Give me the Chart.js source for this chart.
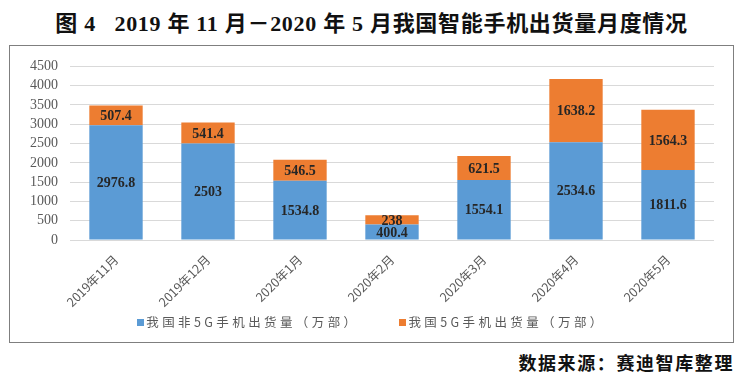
<!DOCTYPE html>
<html><head><meta charset="utf-8">
<script src="https://cdn.jsdelivr.net/npm/chart.js@4/dist/chart.umd.min.js"></script>
<style>
html,body{margin:0;padding:0;background:#fff;width:743px;height:383px;overflow:hidden;position:relative}
#title{position:absolute;left:0;top:5px;width:743px;text-align:center;font:bold 22px "Liberation Serif","Noto Sans CJK SC",serif;color:#111;white-space:pre;letter-spacing:0.7px}
#box{position:absolute;left:9px;top:45px;width:723px;height:296px;border:1.5px solid #7f7f7f}
#wrap{position:absolute;left:0;top:0;width:723px;height:296px}
#legend{position:absolute;left:0;top:266px;width:723px;text-align:center;font:12.5px "Noto Sans CJK SC",sans-serif;color:#595959;letter-spacing:3.4px;white-space:nowrap}
#legend span.item{display:inline-block;margin:0 20px}
#legend i{display:inline-block;width:7px;height:7px;margin-right:2px;vertical-align:1px}
#src{position:absolute;right:9px;top:349px;font:bold 18px "Noto Sans CJK SC",serif;color:#111;letter-spacing:1.6px}
</style></head><body>
<div id="title">图 4   2019 年 11 月－2020 年 5 月我国智能手机出货量月度情况</div>
<div id="box"><div id="wrap"><canvas id="c" width="723" height="296"></canvas></div><div id="legend"></div></div>
<div id="src">数据来源：赛迪智库整理</div>
<script>
const categories = ["2019年11月","2019年12月","2020年1月","2020年2月","2020年3月","2020年4月","2020年5月"];
const non5G = [2976.8, 2503, 1534.8, 400.4, 1554.1, 2534.6, 1811.6];
const g5 = [507.4, 541.4, 546.5, 238, 621.5, 1638.2, 1564.3];
const seriesNames = ["我国非5G手机出货量（万部）","我国5G手机出货量（万部）"];
const seriesColors = ["#5B9BD5","#ED7D31"];
const yMin = 0, yMax = 4500, yStep = 500;

const labelPlugin = {
  id:'vals',
  afterDatasetsDraw(chart){
    const ctx = chart.ctx;
    ctx.save();
    ctx.font = 'bold 14px "Liberation Serif", serif';
    ctx.fillStyle = '#262626';
    ctx.textAlign = 'center';
    ctx.textBaseline = 'middle';
    chart.data.datasets.forEach((ds, di) => {
      const meta = chart.getDatasetMeta(di);
      meta.data.forEach((bar, i) => {
        const y = (bar.y + bar.base) / 2;
        ctx.fillText(String(ds.data[i]), bar.x, y + 1);
      });
    });
    ctx.restore();
  }
};

const chart = new Chart(document.getElementById('c'), {
  type:'bar',
  data:{
    labels: categories,
    datasets: seriesNames.map((n, k) => ({
      label: n, data: k === 0 ? non5G : g5, backgroundColor: seriesColors[k],
      categoryPercentage:0.58, barPercentage:1
    }))
  },
  options:{
    responsive:false, animation:false,
    layout:{padding:{top:5,right:19,left:0,bottom:32}},
    plugins:{ legend:{display:false}, tooltip:{enabled:false} },
    scales:{
      x:{stacked:true, grid:{display:false}, border:{display:false},
         afterFit(s){ s.height = 70; },
         ticks:{color:'#595959', maxRotation:45, minRotation:45, padding:4, autoSkip:false,
                font:{size:12.5, family:'"Noto Sans CJK SC", sans-serif'}}},
      y:{stacked:true, min:yMin, max:yMax,
         afterFit(s){ s.width = 60; },
         grid:{color:'#d9d9d9', drawTicks:false}, border:{display:false},
         ticks:{stepSize:yStep, autoSkip:false, color:'#595959', padding:12,
                callback:v=>String(v),
                font:{size:14, family:'"Liberation Serif", serif'}}}
    }
  },
  plugins:[labelPlugin]
});

const lg = document.getElementById('legend');
seriesNames.forEach((n, k) => {
  const s = document.createElement('span'); s.className = 'item';
  const b = document.createElement('i'); b.style.background = seriesColors[k];
  s.appendChild(b); s.appendChild(document.createTextNode(n)); lg.appendChild(s);
});
</script>
</body></html>
